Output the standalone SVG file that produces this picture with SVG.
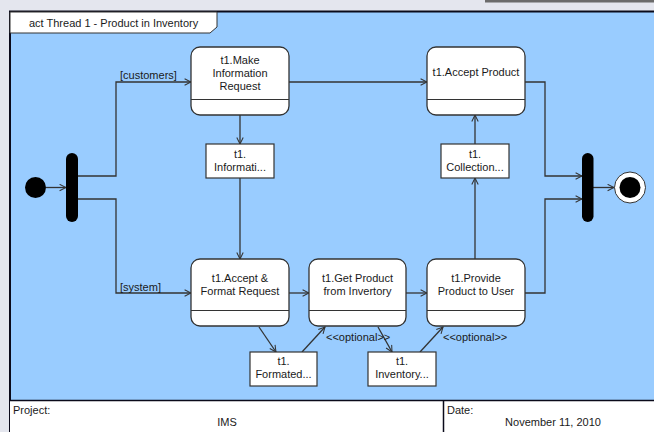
<svg xmlns="http://www.w3.org/2000/svg" width="654" height="432" viewBox="0 0 654 432">
  <style>
    text { font-family: "Liberation Sans", Arial, sans-serif; font-size: 11px; fill: #1a1a1a; }
    .c { text-anchor: middle; }
    .action { fill: #ffffff; stroke: #333333; stroke-width: 1.3; }
    .sep { stroke: #333333; stroke-width: 1; }
    .obj { fill: #ffffff; stroke: #333333; stroke-width: 1.2; }
    .flow { fill: none; stroke: #333333; stroke-width: 1.3; marker-end: url(#arrow); }
    .bar { fill: #000000; }
  </style>
  <defs>
    <marker id="arrow" viewBox="0 0 10 10" refX="9" refY="5" markerWidth="8" markerHeight="8" markerUnits="userSpaceOnUse" orient="auto">
      <path d="M1,1 L9,5 L1,9" fill="none" stroke="#333333" stroke-width="1.3"/>
    </marker>
  </defs>

  <!-- window background -->
  <rect x="0" y="0" width="654" height="432" fill="#e4e6ee"/>
  <rect x="485" y="0" width="169" height="2.5" fill="#6b6b6b"/>

  <!-- activity frame -->
  <rect x="10" y="12" width="650" height="388" fill="#99ccff"/>
  <line x1="9" y1="11.5" x2="654" y2="11.5" stroke="#0a0a1a" stroke-width="2"/>
  <line x1="10" y1="11" x2="10" y2="432" stroke="#0a0a1a" stroke-width="2"/>

  <!-- frame title tab -->
  <g id="frame-title">
    <path d="M10,12 H217 V27 L210,33 H10 Z" fill="#ffffff" stroke="#333333" stroke-width="1"/>
    <text x="29" y="27">act Thread 1 - Product in Inventory</text>
  </g>

  <!-- footer -->
  <g id="footer">
    <rect x="10" y="400" width="650" height="32" fill="#ffffff"/>
    <line x1="10" y1="400.5" x2="654" y2="400.5" stroke="#0a0a1a" stroke-width="1.5"/>
    <line x1="443.5" y1="400" x2="443.5" y2="432" stroke="#0a0a1a" stroke-width="1.5"/>
    <text x="13" y="414">Project:</text>
    <text x="227" y="426" class="c">IMS</text>
    <text x="447" y="414">Date:</text>
    <text x="553" y="426" class="c">November 11, 2010</text>
  </g>

  <!-- connectors -->
  <g id="connectors">
    <line class="flow" x1="46" y1="187.5" x2="66" y2="187.5"/>
    <polyline class="flow" points="78,176 116,176 116,82 191,82"/>
    <polyline class="flow" points="78,199 116,199 116,293 191,293"/>
    <line class="flow" x1="289" y1="82" x2="427" y2="82"/>
    <line class="flow" x1="240" y1="115" x2="240" y2="144"/>
    <line class="flow" x1="240" y1="178" x2="240" y2="259"/>
    <line class="flow" x1="289" y1="293" x2="309" y2="293"/>
    <line class="flow" x1="406" y1="293" x2="427" y2="293"/>
    <line class="flow" x1="475" y1="259" x2="475" y2="178"/>
    <line class="flow" x1="475" y1="144" x2="475" y2="115"/>
    <polyline class="flow" points="525,82 545,82 545,176 582,176"/>
    <polyline class="flow" points="525,293 545,293 545,199 582,199"/>
    <line class="flow" x1="593" y1="187.5" x2="614" y2="187.5"/>
    <line class="flow" x1="259" y1="327" x2="276" y2="352"/>
    <line class="flow" x1="302" y1="352" x2="325" y2="327"/>
    <line class="flow" x1="378" y1="327" x2="392" y2="352"/>
    <line class="flow" x1="420" y1="352" x2="443" y2="327"/>
    <text x="120" y="79">[customers]</text>
    <text x="120" y="291">[system]</text>
    <text x="326" y="341">&lt;&lt;optional&gt;&gt;</text>
    <text x="443" y="341">&lt;&lt;optional&gt;&gt;</text>
  </g>

  <!-- initial node -->
  <g id="initial">
    <circle cx="35.5" cy="187.5" r="10.5" fill="#000000"/>
  </g>

  <!-- fork -->
  <g id="fork">
    <rect class="bar" x="66" y="153" width="12" height="69" rx="6"/>
  </g>

  <!-- join -->
  <g id="join">
    <rect class="bar" x="582" y="153" width="11.5" height="69" rx="5.75"/>
  </g>

  <!-- final node -->
  <g id="final">
    <circle cx="630" cy="187.5" r="15.5" fill="#ffffff" stroke="#333333" stroke-width="1"/>
    <circle cx="630" cy="187.5" r="10.5" fill="#000000"/>
  </g>

  <!-- actions -->
  <g id="make-information-request">
    <rect class="action" x="191" y="47" width="98" height="68" rx="9"/>
    <line class="sep" x1="191" y1="99.5" x2="289" y2="99.5"/>
    <text x="240" y="64" class="c">t1.Make</text>
    <text x="240" y="77" class="c">Information</text>
    <text x="240" y="90" class="c">Request</text>
  </g>

  <g id="accept-product">
    <rect class="action" x="427" y="47" width="98" height="68" rx="9"/>
    <line class="sep" x1="427" y1="99.5" x2="525" y2="99.5"/>
    <text x="476" y="76" class="c">t1.Accept Product</text>
  </g>

  <g id="accept-format-request">
    <rect class="action" x="191" y="259" width="98" height="67" rx="9"/>
    <line class="sep" x1="191" y1="310.5" x2="289" y2="310.5"/>
    <text x="240" y="282" class="c">t1.Accept &amp;</text>
    <text x="240" y="295" class="c">Format Request</text>
  </g>

  <g id="get-product">
    <rect class="action" x="309" y="259" width="97" height="67" rx="9"/>
    <line class="sep" x1="309" y1="310.5" x2="406" y2="310.5"/>
    <text x="357.5" y="282" class="c">t1.Get Product</text>
    <text x="357.5" y="295" class="c">from Invertory</text>
  </g>

  <g id="provide-product">
    <rect class="action" x="427" y="259" width="98" height="67" rx="9"/>
    <line class="sep" x1="427" y1="310.5" x2="525" y2="310.5"/>
    <text x="476" y="282" class="c">t1.Provide</text>
    <text x="476" y="295" class="c">Product to User</text>
  </g>

  <!-- object nodes -->
  <g id="information-object">
    <rect class="obj" x="206" y="144" width="68" height="34"/>
    <text x="240" y="158" class="c">t1.</text>
    <text x="240" y="171" class="c">Informati...</text>
  </g>

  <g id="collection-object">
    <rect class="obj" x="441" y="144" width="68" height="34"/>
    <text x="475" y="158" class="c">t1.</text>
    <text x="475" y="171" class="c">Collection...</text>
  </g>

  <g id="formated-object">
    <rect class="obj" x="250" y="352" width="67" height="34"/>
    <text x="283.5" y="365" class="c">t1.</text>
    <text x="283.5" y="378" class="c">Formated...</text>
  </g>

  <g id="inventory-object">
    <rect class="obj" x="368" y="352" width="68" height="34"/>
    <text x="402" y="365" class="c">t1.</text>
    <text x="402" y="378" class="c">Inventory...</text>
  </g>
</svg>
